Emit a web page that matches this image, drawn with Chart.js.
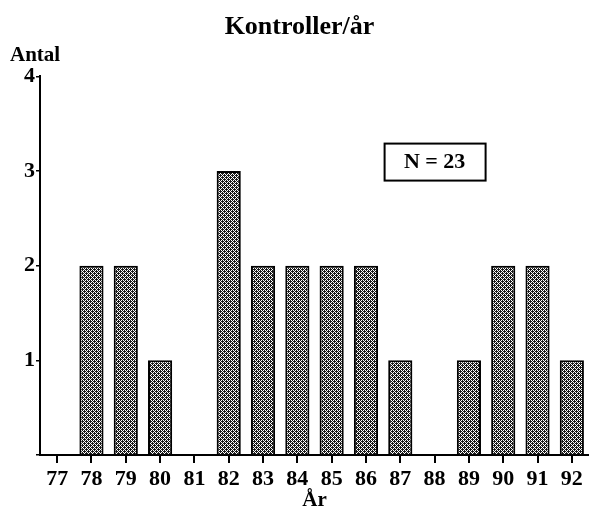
<!DOCTYPE html>
<html>
<head>
<meta charset="utf-8">
<script src="https://cdn.jsdelivr.net/npm/chart.js@4.4.0/dist/chart.umd.min.js"></script>
<style>
  html, body { margin: 0; padding: 0; background: #fff; }
  #wrap { width: 589px; height: 522px; position: relative; }
</style>
</head>
<body>
<div id="wrap"><canvas id="kontroller"></canvas></div>
<script>
const years = ["77", "78", "79", "80", "81", "82", "83", "84", "85", "86", "87", "88", "89", "90", "91", "92"]; // x categories
const antal = [0, 2, 2, 1, 0, 3, 2, 2, 2, 2, 1, 0, 1, 2, 2, 1]; // controls per year
const yTicks = [1, 2, 3, 4];
const nText = "N = 23";

// dotted fill like the scanned original
function dotPattern() {
  const c = document.createElement("canvas");
  c.width = 4; c.height = 4;
  const g = c.getContext("2d");
  g.fillStyle = "#1a1a1a";
  g.fillRect(0, 0, 4, 4);
  g.fillStyle = "#fff";
  [[1,0],[0,1],[3,2],[2,3],[1,2],[3,0]].forEach(p => g.fillRect(p[0], p[1], 1, 1));
  return g.createPattern(c, "repeat");
}

const serif = "'Liberation Serif', 'DejaVu Serif', serif";

// box with N = .. placed in data coordinates
const nBox = {
  id: "nBox",
  afterDraw(chart) {
    const ctx = chart.ctx;
    const x = chart.scales.x.getPixelForValue(11.0);
    const y = chart.scales.y.getPixelForValue(3.1);
    ctx.save();
    ctx.font = "bold 22px " + serif;
    ctx.lineWidth = 2;
    ctx.strokeStyle = "#000";
    ctx.strokeRect(x - 50, y - 18, 101, 37);
    ctx.fillStyle = "#000";
    ctx.textAlign = "center";
    ctx.textBaseline = "middle";
    ctx.fillText(nText, x, y + 1);
    ctx.restore();
  }
};

new Chart("kontroller", {
  type: "bar",
  data: {
    labels: years,
    datasets: [{
      label: "Antal",
      data: antal,
      backgroundColor: dotPattern(),
      borderColor: "#000",
      borderWidth: 2,
      categoryPercentage: 0.8,
      barPercentage: 0.88
    }]
  },
  options: {
    responsive: true,
    maintainAspectRatio: false,
    animation: false,
    layout: { padding: { left: 10, right: 0, top: 12, bottom: 11 } },
    plugins: {
      legend: { display: false },
      tooltip: { enabled: false },
      title: {
        display: true,
        text: "Kontroller/år",
        color: "#000",
        font: { family: serif, size: 26, weight: "bold" },
        padding: { top: 0, bottom: 0 }
      },
      subtitle: {
        display: true,
        text: "Antal",
        align: "start",
        color: "#000",
        font: { family: serif, size: 21, weight: "bold" },
        padding: { top: 0, bottom: 8 }
      }
    },
    scales: {
      x: {
        grid: { display: true, drawOnChartArea: false, offset: false, tickLength: 8, color: "#000", lineWidth: 2 },
        border: { color: "#000", width: 2 },
        ticks: { color: "#000", font: { family: serif, size: 22, weight: "bold", lineHeight: 1 }, padding: 5, maxRotation: 0, autoSkip: false },
        title: {
          display: true,
          text: "År",
          color: "#000",
          font: { family: serif, size: 21, weight: "bold", lineHeight: 1 },
          padding: { top: -5, bottom: 0 }
        }
      },
      y: {
        min: 0,
        max: 4,
        afterBuildTicks(axis) { axis.ticks = [0].concat(yTicks).map(v => ({ value: v })); },
        afterFit(axis) { axis.width = 30; },
        grid: { display: true, drawOnChartArea: false, tickLength: 4, color: "#000", lineWidth: 1.5 },
        border: { color: "#000", width: 2 },
        ticks: {
          color: "#000",
          font: { family: serif, size: 22, weight: "bold" },
          padding: 1,
          callback: v => (v === 0 ? "" : v)
        }
      }
    }
  },
  plugins: [nBox]
});
</script>
</body>
</html>
